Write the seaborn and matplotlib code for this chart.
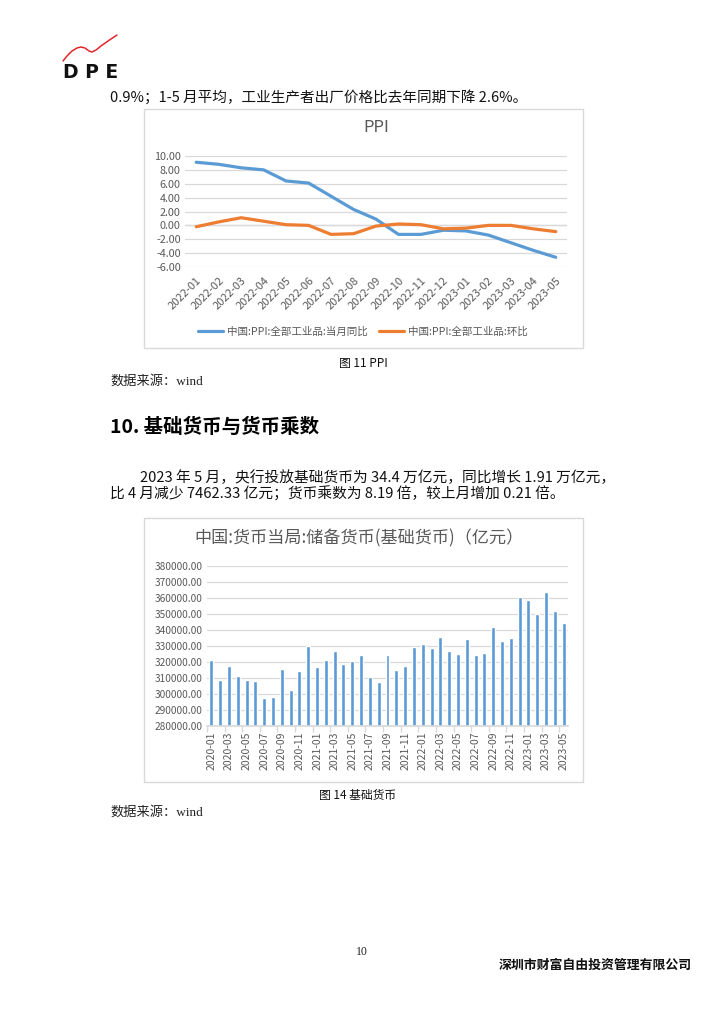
import numpy as np
import pandas as pd
import seaborn as sns
import matplotlib.pyplot as plt
from matplotlib.patches import Rectangle
from matplotlib.ticker import StrMethodFormatter

# ---- data ----
ppi_months = ['2022-01', '2022-02', '2022-03', '2022-04', '2022-05', '2022-06',
              '2022-07', '2022-08', '2022-09', '2022-10', '2022-11', '2022-12',
              '2023-01', '2023-02', '2023-03', '2023-04', '2023-05']
ppi_yoy = [9.1, 8.8, 8.3, 8.0, 6.4, 6.1, 4.2, 2.3, 0.9, -1.3, -1.3, -0.7,
           -0.8, -1.4, -2.5, -3.6, -4.6]
ppi_mom = [-0.2, 0.5, 1.1, 0.6, 0.1, 0.0, -1.3, -1.2, -0.1, 0.2, 0.1, -0.5,
           -0.4, 0.0, 0.0, -0.5, -0.9]
ppi_names = ['中国:PPI:全部工业品:当月同比', '中国:PPI:全部工业品:环比']

base_months = list(pd.period_range('2020-01', '2023-05', freq='M').strftime('%Y-%m'))
base_money = [321500, 308600, 317300, 311500, 308600, 308200, 297200, 298000,
              315700, 302200, 314400, 330200,
              316700, 321500, 326900, 318600, 320700, 324200, 310500, 307400,
              324200, 314900, 317600, 329400,
              331000, 328500, 335400, 326900, 325000, 334100, 324200, 325600,
              341600, 333100, 334800, 360900,
              358800, 350300, 364000, 351600, 344300]

BLUE = '#5B9BD5'
ORANGE = '#ED7D31'
GRID = '#D9D9D9'
GREY = '#595959'

sns.set_theme(style='white')
plt.rcParams['font.family'] = ['Noto Sans CJK SC', 'DejaVu Sans']
plt.rcParams['axes.unicode_minus'] = False

W, H = 724, 1024
fig = plt.figure(figsize=(W / 100, H / 100), dpi=100)

# page layer in pixel coordinates (y down)
page = fig.add_axes([0, 0, 1, 1])
page.set_xlim(0, W)
page.set_ylim(H, 0)
page.axis('off')


def px_axes(l, t, r, b):
    return fig.add_axes([l / W, 1 - b / H, (r - l) / W, (b - t) / H])


# logo
page.plot([63, 67, 72, 77, 81, 85, 89, 92, 96, 101, 108, 117],
          [61, 56, 51, 48, 47, 48, 51, 52, 50, 46, 41, 35],
          color='#E3262A', lw=1.1, solid_capstyle='round')
page.text(63, 72.5, 'D P E', fontsize=13.5, fontweight='bold', va='center',
          family=['DejaVu Sans'], color='#111111')

# body text
page.text(110, 97, '0.9%；1-5 月平均，工业生产者出厂价格比去年同期下降 2.6%。',
          fontsize=10.5, va='center', color='#111111')

# chart frames
for (l, t, r, b) in [(144, 109, 583, 348), (144, 518, 583, 782)]:
    page.add_patch(Rectangle((l, t), r - l, b - t, fill=False, ec=GRID, lw=1))

# ---- PPI line chart ----
ppi_df = pd.DataFrame({
    'month': ppi_months * 2,
    'value': ppi_yoy + ppi_mom,
    'series': [ppi_names[0]] * len(ppi_months) + [ppi_names[1]] * len(ppi_months),
})
ax1 = px_axes(185, 156, 567, 267)
sns.lineplot(data=ppi_df, x='month', y='value', hue='series',
             palette=[BLUE, ORANGE], linewidth=2.3, sort=False, ax=ax1)
ax1.set_xlim(-0.5, len(ppi_months) - 0.5)
ax1.set_ylim(-6, 10)
ax1.set_yticks(np.arange(-6, 11, 2))
ax1.yaxis.set_major_formatter(StrMethodFormatter('{x:.2f}'))
ax1.grid(axis='y', color=GRID, lw=0.9)
ax1.axhline(0, color=GRID, lw=1, zorder=0)
ax1.set_xlabel('')
ax1.set_ylabel('')
for s in ax1.spines.values():
    s.set_visible(False)
ax1.tick_params(axis='y', labelsize=7.8, labelcolor=GREY, length=0, pad=3)
ax1.tick_params(axis='x', labelsize=8, labelcolor=GREY, length=0, pad=6)
for lab in ax1.get_xticklabels():
    lab.set_rotation(45)
    lab.set_ha('right')
    lab.set_rotation_mode('anchor')
ax1.set_title('PPI', fontsize=12, color=GREY, pad=0,
              y=(267 - 128) / (267 - 156), va='center')
handles, labels = ax1.get_legend_handles_labels()
ax1.legend(handles, labels, loc='center', bbox_to_anchor=(363 / W, 1 - 332 / H),
           bbox_transform=fig.transFigure, ncol=2, frameon=False, fontsize=7.6,
           handlelength=2.4, columnspacing=1.0, handletextpad=0.4,
           labelcolor=GREY)

page.text(363, 363, '图 11 PPI', fontsize=8.5, ha='center', va='center',
          fontweight='medium', color='#111111')
page.text(110, 381, '数据来源：wind', fontsize=9.5, va='center',
          family=['Liberation Serif', 'Noto Sans CJK SC'], color='#222222')

page.text(110, 427, '10. 基础货币与货币乘数', fontsize=14, fontweight='bold',
          va='center', color='#000000')
page.text(140, 478, '2023 年 5 月，央行投放基础货币为 34.4 万亿元，同比增长 1.91 万亿元，',
          fontsize=10.6, va='center', color='#111111')
page.text(110, 494, '比 4 月减少 7462.33 亿元；货币乘数为 8.19 倍，较上月增加 0.21 倍。',
          fontsize=10.6, va='center', color='#111111')

# ---- base money bar chart ----
ax2 = px_axes(207, 566, 568, 726)
sns.barplot(x=base_months, y=base_money, color=BLUE, width=0.45,
            saturation=1, ax=ax2)
ax2.set_xlim(-0.5, len(base_months) - 0.5)
ax2.set_ylim(280000, 380000)
ax2.set_yticks(np.arange(280000, 380001, 10000))
ax2.yaxis.set_major_formatter(StrMethodFormatter('{x:.2f}'))
ax2.grid(axis='y', color=GRID, lw=0.9)
ax2.set_axisbelow(True)
for s in ax2.spines.values():
    s.set_visible(False)
ax2.spines['bottom'].set_visible(True)
ax2.spines['bottom'].set_color(GRID)
ax2.set_xticks(range(0, len(base_months), 2))
ax2.set_xticklabels(base_months[::2], rotation=90)
ax2.set_xticks(np.arange(-0.5, len(base_months), 2), minor=True)
ax2.tick_params(axis='x', which='minor', length=4, color=GRID, bottom=True)
ax2.tick_params(axis='x', which='major', length=0, labelsize=7.5,
                labelcolor=GREY, pad=4)
ax2.tick_params(axis='y', labelsize=7.3, labelcolor=GREY, length=0, pad=3)
page.text(359, 538, '中国:货币当局:储备货币(基础货币)（亿元）', fontsize=12.3,
          ha='center', va='center', color=GREY)

page.text(358, 795, '图 14 基础货币', fontsize=8.5, ha='center', va='center',
          fontweight='medium', color='#111111')
page.text(110, 812, '数据来源：wind', fontsize=9.5, va='center',
          family=['Liberation Serif', 'Noto Sans CJK SC'], color='#222222')

# footer
page.text(362, 952, '10', fontsize=8.5, ha='center', va='center',
          family=['Liberation Serif'], color='#222222')
page.text(692, 965, '深圳市财富自由投资管理有限公司', fontsize=9.3, ha='right',
          va='center', fontweight='bold', color='#111111')

fig.savefig('out.png', dpi=100, facecolor='white')
